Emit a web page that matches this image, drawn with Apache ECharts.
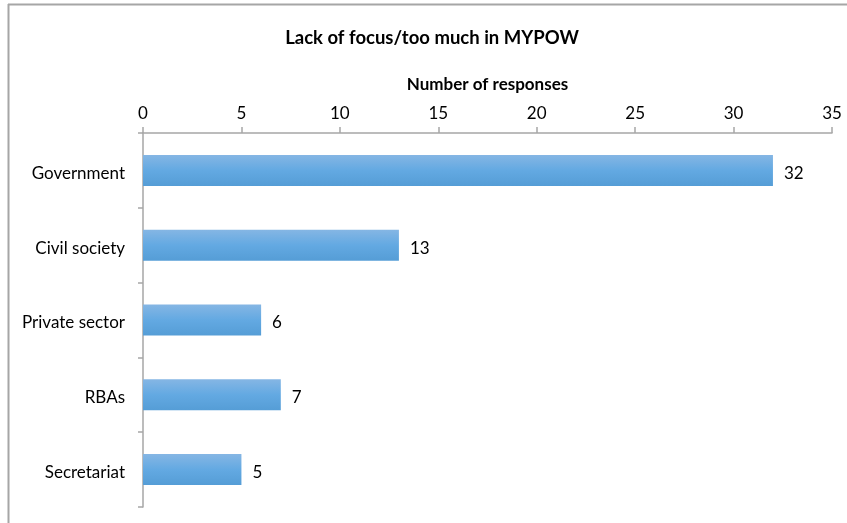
<!DOCTYPE html>
<html>
<head>
<meta charset="utf-8">
<script src="https://cdn.jsdelivr.net/npm/echarts@6/dist/echarts.min.js"></script>
<style>html,body{margin:0;padding:0;background:#fff}#c{width:847px;height:523px}</style>
</head>
<body>
<div id="c"></div>
<script>
const categories = ['Government', 'Civil society', 'Private sector', 'RBAs', 'Secretariat'];
const values = [32, 13, 6, 7, 5];
const xTicks = [0, 5, 10, 15, 20, 25, 30, 35];
const titleText = 'Lack of focus/too much in MYPOW';
const axisTitle = 'Number of responses';

const FONT = 'Lato, "Open Sans", sans-serif';
const richLbl = {t: {fontFamily: FONT, fontSize: 17, color: '#000', padding: [6, 0, 0, 0]}};
const chart = echarts.init(document.getElementById('c'), null, {renderer: 'canvas'});
chart.setOption({
  animation: false,
  backgroundColor: '#fff',
  title: {
    text: titleText, left: 427, top: 24, textAlign: 'center',
    textStyle: {fontFamily: FONT, fontSize: 18.5, fontWeight: 'bold', color: '#000'}
  },
  graphic: [
    {type: 'line', shape: {x1: 8, y1: 4.5, x2: 847, y2: 4.5}, style: {stroke: '#a6a6a6', lineWidth: 2}},
    {type: 'line', shape: {x1: 8.5, y1: 4, x2: 8.5, y2: 523}, style: {stroke: '#a6a6a6', lineWidth: 2}}
  ],
  grid: {left: 143, right: 15, top: 133, bottom: 16, containLabel: false},
  xAxis: {
    type: 'value', position: 'top', min: xTicks[0], max: xTicks[xTicks.length - 1], interval: 5,
    name: axisTitle, nameLocation: 'middle', nameGap: 40,
    nameTextStyle: {fontFamily: FONT, fontSize: 17, fontWeight: 'bold', color: '#000'},
    axisLine: {show: true, lineStyle: {color: '#a6a6a6', width: 1.5}},
    axisTick: {show: true, length: 6, lineStyle: {color: '#a6a6a6', width: 1.5}},
    axisLabel: {fontFamily: FONT, fontSize: 17, color: '#000', margin: 11},
    splitLine: {show: false}
  },
  yAxis: {
    type: 'category', data: categories, inverse: true,
    axisLine: {show: true, lineStyle: {color: '#a6a6a6', width: 1.5}},
    axisTick: {show: true, length: 5, alignWithLabel: false, lineStyle: {color: '#a6a6a6', width: 1.5}},
    axisLabel: {margin: 18, formatter: v => '{t|' + v + '}', rich: richLbl}
  },
  series: [{
    type: 'bar', data: values, barWidth: 31,
    itemStyle: {
      color: new echarts.graphic.LinearGradient(0, 0, 0, 1, [
        {offset: 0, color: '#85b6e4'},
        {offset: 0.5, color: '#63a9e2'},
        {offset: 1, color: '#559dd6'}
      ])
    },
    label: {show: true, position: 'right', distance: 11, formatter: p => '{t|' + p.value + '}', rich: richLbl}
  }]
});
</script>
</body>
</html>
